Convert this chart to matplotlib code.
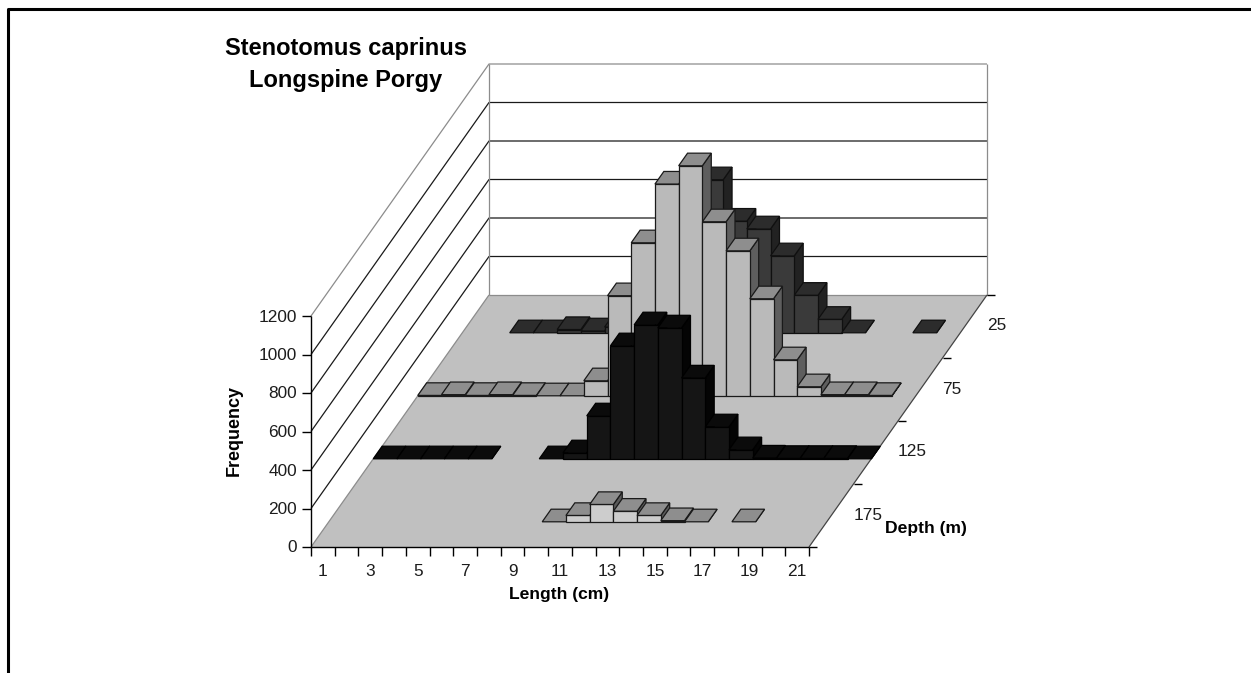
import numpy as np
import matplotlib
matplotlib.use("Agg")
import matplotlib.pyplot as plt
from matplotlib.patches import Polygon

plt.rcParams['font.family'] = ['Liberation Sans', 'DejaVu Sans']

length_labels = [1, 3, 5, 7, 9, 11, 13, 15, 17, 19, 21]
depth_labels = [25, 75, 125, 175]
freq_ticks = [0, 200, 400, 600, 800, 1000, 1200]
n = np.nan
depth_25 = [n, n, 0, 0, 17, 10, 30, 100, 300, 600, 795, 580, 540, 400, 195, 70, 0, n, n, 0, n]
depth_75 = [2, 6, 2, 6, 2, 0, 0, 78, 520, 795, 1100, 1195, 904, 753, 504, 187, 47, 6, 6, 2, n]
depth_125 = [0, 0, 0, 0, 0, n, n, 0, 31, 223, 587, 696, 680, 420, 166, 47, 4, 2, 2, 2, 0]
depth_175 = [n, n, n, n, n, n, n, n, n, 0, 33, 90, 55, 33, 6, 0, n, 0, n, n, n]
series = [depth_25, depth_75, depth_125, depth_175]
# (front, top, side) greys of each depth row
row_colors = [('#3a3a3a', '#2c2c2c', '#222222'),
              ('#bababa', '#8e8e8e', '#5e5e5e'),
              ('#151515', '#0b0b0b', '#040404'),
              ('#cdcdcd', '#8e8e8e', '#5a5a5a')]
row_edges = ['#101010', '#1a1a1a', '#000000', '#1a1a1a']

W, H = 1251, 673
X0, Y0 = 311, 547          # front-left floor corner, pixels
LEN_PX = 498.0             # floor width
DX, DY = 178.0, 252.0      # floor depth vector
Z_PX = 231.0 / 1200.0      # pixels per unit of frequency
N_LEN, N_DEP = 21, 4


def proj(length, depth, freq=0.0):
    """length in bins from the left, depth in rows from the back, freq in fish."""
    d = (N_DEP - depth) / N_DEP
    return (X0 + length / N_LEN * LEN_PX + d * DX,
            Y0 - d * DY - freq * Z_PX)


fig = plt.figure(figsize=(W / 100, H / 100), dpi=100, facecolor='white')
ax = fig.add_axes([0, 0, 1, 1])
ax.set_xlim(0, W)
ax.set_ylim(H, 0)
ax.axis('off')


def poly(pts, fc, ec='none', lw=0.0, z=1):
    ax.add_patch(Polygon(pts, closed=True, fc=fc, ec=ec, lw=lw, zorder=z, joinstyle='miter'))


def line(pts, color='black', lw=1.0, z=2):
    p = np.array(pts)
    ax.plot(p[:, 0], p[:, 1], color=color, lw=lw, zorder=z, solid_capstyle='butt')


# Walls and floor
poly([proj(0, N_DEP), proj(0, 0), proj(0, 0, 1200), proj(0, N_DEP, 1200)], 'white')
poly([proj(0, 0), proj(N_LEN, 0), proj(N_LEN, 0, 1200), proj(0, 0, 1200)], 'white')
poly([proj(0, N_DEP), proj(N_LEN, N_DEP), proj(N_LEN, 0), proj(0, 0)], '#c0c0c0')

for f in freq_ticks[1:]:
    col = '#8c8c8c' if f == 1200 else '#1a1a1a'
    line([proj(0, N_DEP, f), proj(0, 0, f), proj(N_LEN, 0, f)], color=col, lw=0.9)
line([proj(0, 0), proj(0, 0, 1200)], color='#8c8c8c', lw=0.9)
line([proj(N_LEN, 0), proj(N_LEN, 0, 1200)], color='#8c8c8c', lw=0.9)
line([proj(0, 0), proj(N_LEN, 0)], color='#8c8c8c', lw=0.9)
line([proj(0, N_DEP), proj(0, 0)], color='#8c8c8c', lw=0.9)
line([proj(N_LEN, N_DEP), proj(N_LEN, 0)], color='#444444', lw=0.9)

# Bars, back row first, left to right
FRONT, BACK = 0.6, 0.4   # depth fraction inside a row occupied by each bar
z = 3
for r, (vals, cols, ec) in enumerate(zip(series, row_colors, row_edges)):
    fc, tc, sc = cols
    for i, v in enumerate(vals):
        if np.isnan(v):
            continue
        df, db = r + FRONT, r + BACK
        a, b = i, i + 1
        lw = 0.9
        poly([proj(b, df), proj(b, db), proj(b, db, v), proj(b, df, v)], sc, ec, lw, z)
        if v > 0:
            poly([proj(a, df), proj(b, df), proj(b, df, v), proj(a, df, v)], fc, ec, lw, z)
        poly([proj(a, df, v), proj(b, df, v), proj(b, db, v), proj(a, db, v)], tc, ec, lw, z)
        z += 0.01

# Frequency axis
line([proj(0, N_DEP), proj(0, N_DEP, 1200)], lw=1.0, z=20)
for f in freq_ticks:
    x, y = proj(0, N_DEP, f)
    line([(x - 9, y), (x, y)], lw=1.0, z=20)
    ax.text(x - 14, y + 1, str(f), ha='right', va='center', fontsize=12.4, color='#1c1c1c', zorder=21)

# Length axis
line([proj(0, N_DEP), proj(N_LEN, N_DEP)], lw=1.0, z=20)
for i in range(N_LEN + 1):
    x, y = proj(i, N_DEP)
    line([(x, y), (x, y + 9)], lw=1.0, z=20)
for lab in length_labels:
    x, y = proj(lab - 0.5, N_DEP)
    ax.text(x, y + 24, str(lab), ha='center', va='center', fontsize=12.4, color='#1c1c1c', zorder=21)

# Depth axis
for k in range(N_DEP + 1):
    x, y = proj(N_LEN, k)
    line([(x, y), (x + 8, y)], lw=1.0, z=20)
for k, lab in enumerate(depth_labels):
    x, y = proj(N_LEN, k + 0.5)
    ax.text(x + 22, y - 0.5, str(lab), ha='left', va='center', fontsize=12.4, color='#1c1c1c', zorder=21)

# Titles
ax.text(346, 48, 'Stenotomus caprinus', ha='center', va='center', fontsize=17, fontweight='bold', color='black')
ax.text(346, 80, 'Longspine Porgy', ha='center', va='center', fontsize=17, fontweight='bold', color='black')
ax.text(559, 595, 'Length (cm)', ha='center', va='center', fontsize=12.6, fontweight='bold', color='black')
ax.text(234, 430.5, 'Frequency', ha='center', va='center', rotation=90, fontsize=13, fontweight='bold', color='black')
ax.text(926, 528, 'Depth (m)', ha='center', va='center', fontsize=12.6, fontweight='bold', color='black')

# Picture frame
line([(7.5, H), (7.5, 8.5), (W, 8.5)], lw=2.2, z=30)

fig.savefig('out.png', dpi=100, facecolor='white')
